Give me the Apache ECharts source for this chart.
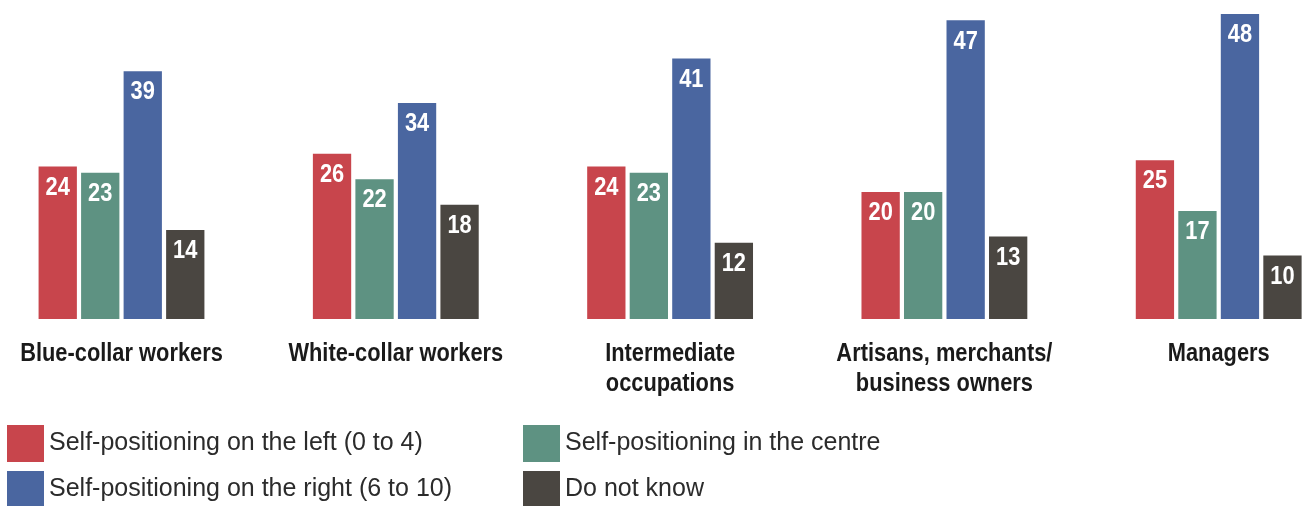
<!DOCTYPE html>
<html>
<head>
<meta charset="utf-8">
<style>
  html, body { margin: 0; padding: 0; background: #ffffff; }
  #chart { width: 1306px; height: 506px; }
</style>
<script src="https://cdn.jsdelivr.net/npm/echarts@6/dist/echarts.min.js"></script>
</head>
<body>
<div id="chart"></div>
<script>
// Occupational groups (x axis)
const categories = [
  'Blue-collar workers',
  'White-collar workers',
  'Intermediate\noccupations',
  'Artisans, merchants/\nbusiness owners',
  'Managers'
];

// Series names
const seriesNames = [
  'Self-positioning on the left (0 to 4)',
  'Self-positioning in the centre',
  'Self-positioning on the right (6 to 10)',
  'Do not know'
];

// Percentages per group
const leftValues   = [24, 26, 24, 20, 25];
const centreValues = [23, 22, 23, 20, 17];
const rightValues  = [39, 34, 41, 47, 48];
const dontKnow     = [14, 18, 12, 13, 10];

const colors = ['#c8454c', '#5e9282', '#4a66a0', '#4a4641'];

const valueSets = [leftValues, centreValues, rightValues, dontKnow];

const boldFace = '"Liberation Sans", Arial, Helvetica, sans-serif';
const regular = '"Liberation Sans", Arial, Helvetica, sans-serif';
// Horizontal squeeze applied to bold labels to get a condensed look
const CONDENSE = 0.84;

const series = valueSets.map((vals, i) => ({
  name: seriesNames[i],
  type: 'bar',
  data: vals,
  clip: false,
  barWidth: 38.3,
  barGap: '11%',
  itemStyle: { color: colors[i] },
  label: {
    show: true,
    position: 'insideTop',
    distance: 8,
    color: '#ffffff',
    fontFamily: boldFace,
    fontWeight: 'bold',
    fontSize: 26
  },
  emphasis: { disabled: true }
}));

// Legend laid out in two rows of two entries
const legendSpots = [
  { left: 7, top: 425 },
  { left: 523, top: 425 },
  { left: 7, top: 471 },
  { left: 523, top: 471 }
];
const legends = seriesNames.map((name, k) => ({
  data: [name],
  left: legendSpots[k].left,
  top: legendSpots[k].top,
  padding: 0,
  itemWidth: 37,
  itemHeight: 37,
  selectedMode: false,
  icon: 'rect',
  textStyle: {
    fontFamily: regular,
    fontSize: 25,
    color: '#2b2b2b'
  }
}));

const chart = echarts.init(document.getElementById('chart'), null, { renderer: 'canvas' });
chart.setOption({
  animation: false,
  backgroundColor: '#ffffff',
  grid: {
    left: 121.5, right: 87.3, top: 1.3, height: 317.7,
    containLabel: false, outerBoundsMode: 'none'
  },
  xAxis: {
    type: 'category',
    data: categories,
    boundaryGap: false,
    axisLine: { show: false },
    axisTick: { show: false },
    splitLine: { show: false },
    axisLabel: {
      interval: 0,
      margin: 20,
      color: '#1a1a1a',
      fontFamily: boldFace,
      fontWeight: 'bold',
      fontSize: 26,
      lineHeight: 30,
      align: 'center'
    }
  },
  yAxis: {
    type: 'value',
    min: 0,
    max: 50,
    show: false,
    splitLine: { show: false }
  },
  legend: legends,
  series: series
});

// Narrow the bold text spans around their anchor point
const zr = chart.getZr();
zr.storage.getDisplayList(true).forEach(function (el) {
  if (el.type === 'tspan' && el.style && /bold/.test(el.style.font || '')) {
    el.originX = el.style.x || 0;
    el.originY = el.style.y || 0;
    el.scaleX = CONDENSE;
    el.markRedraw();
  }
});
zr.refreshImmediately();
</script>
</body>
</html>
